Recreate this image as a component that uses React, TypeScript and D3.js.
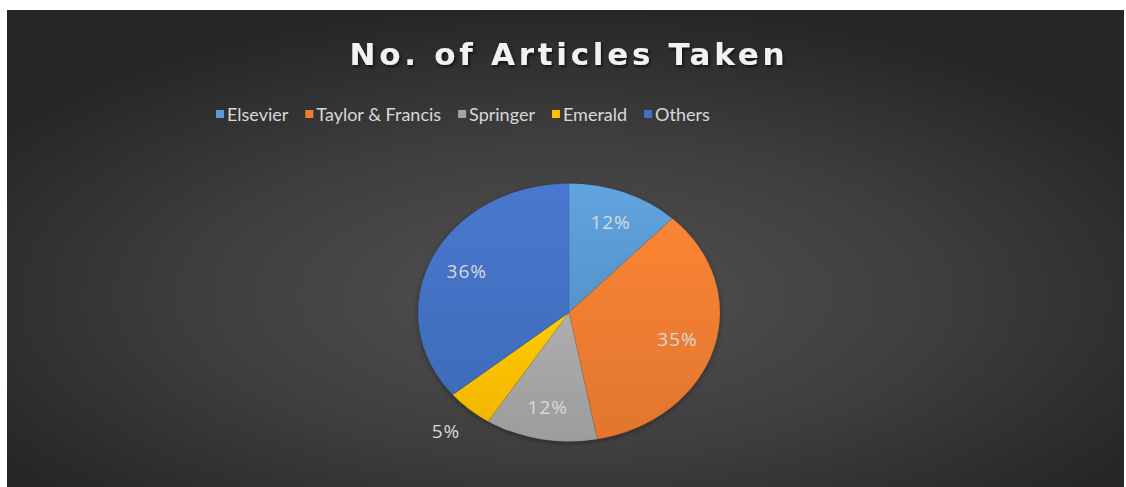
import React, { useEffect, useRef } from "react";
import * as d3 from "d3";

const categories = ["Elsevier", "Taylor & Francis", "Springer", "Emerald", "Others"];
const values = [12, 35, 12, 5, 36];
const colors = ["#5B9BD5", "#ED7D31", "#A5A5A5", "#FFC000", "#4472C4"];
const titleText = "No. of Articles Taken";

export default function App() {
  const ref = useRef<SVGSVGElement>(null);
  useEffect(() => {
    const svg = d3.select(ref.current);
    svg.selectAll("*").remove();
    const W = 1126, H = 487;
    const defs = svg.append("defs");
    const bg = defs.append("radialGradient").attr("id", "bg").attr("cx", "0.5").attr("cy", "0.6").attr("r", "0.6");
    bg.append("stop").attr("offset", "0").attr("stop-color", "#525252");
    bg.append("stop").attr("offset", "0.55").attr("stop-color", "#3e3e3e");
    bg.append("stop").attr("offset", "1").attr("stop-color", "#272727");
    const sh = defs.append("filter").attr("id", "sh").attr("x", "-10%").attr("y", "-30%").attr("width", "120%").attr("height", "160%");
    sh.append("feDropShadow").attr("dx", 1.5).attr("dy", 2).attr("stdDeviation", 1.5).attr("flood-color", "#000").attr("flood-opacity", 0.6);
    const psh = defs.append("filter").attr("id", "psh").attr("x", "-20%").attr("y", "-20%").attr("width", "140%").attr("height", "140%");
    psh.append("feDropShadow").attr("dx", 0).attr("dy", 2).attr("stdDeviation", 3).attr("flood-color", "#000").attr("flood-opacity", 0.35);
    colors.forEach((c, i) => {
      const g = defs.append("linearGradient").attr("id", "sg" + i).attr("x1", 0).attr("y1", 0).attr("x2", 0).attr("y2", 1);
      g.append("stop").attr("offset", 0).attr("stop-color", d3.color(c)!.brighter(0.15).formatHex());
      g.append("stop").attr("offset", 1).attr("stop-color", d3.color(c)!.darker(0.15).formatHex());
    });

    svg.append("rect").attr("x", 0).attr("y", 0).attr("width", W).attr("height", H).attr("fill", "#fff");
    svg.append("rect").attr("x", 7).attr("y", 10).attr("width", 1117).attr("height", 477).attr("fill", "url(#bg)");

    svg.append("text").attr("x", 567).attr("y", 65).attr("text-anchor", "middle")
      .attr("font-family", "'DejaVu Sans', sans-serif").attr("font-weight", 700).attr("font-size", 31)
      .attr("fill", "#f2f2f2").attr("filter", "url(#sh)")
      .attr("textLength", 435).attr("lengthAdjust", "spacing")
      .text(titleText);

    // legend
    const lg = svg.append("g");
    let x = 216;
    categories.forEach((c, i) => {
      lg.append("rect").attr("x", x).attr("y", 110).attr("width", 8).attr("height", 8).attr("fill", colors[i]);
      const t = lg.append("text").attr("x", x + 11).attr("y", 121)
        .attr("font-family", "Lato, sans-serif").attr("font-size", 18).attr("fill", "#d9d9d9").text(c);
      const w = (t.node() as SVGTextElement).getComputedTextLength();
      x += 11 + w + 17;
    });

    const cx = 569, cy = 312.5, rx = 151, ry = 129;
    const pie = d3.pie<number>().sort(null).value(d => d);
    const arcs = pie(values);
    const arc = d3.arc<d3.PieArcDatum<number>>().innerRadius(0).outerRadius(rx);
    const pg = svg.append("g").attr("transform", `translate(${cx},${cy}) scale(1,${ry / rx})`).attr("filter", "url(#psh)");
    pg.selectAll("path").data(arcs).enter().append("path")
      .attr("d", d => arc(d)!)
      .attr("fill", (d, i) => `url(#sg${i})`)
      .attr("stroke", "rgba(0,0,0,0.15)").attr("stroke-width", 0.6);

    const totalV = d3.sum(values);
    arcs.forEach((d, i) => {
      const a = (d.startAngle + d.endAngle) / 2;
      const outside = d.value / totalV < 0.08;
      const r = outside ? 186 : 113;
      const lx = cx + Math.sin(a) * r;
      const ly = cy - Math.cos(a) * r * (ry / rx);
      svg.append("text").attr("x", lx).attr("y", ly).attr("text-anchor", "middle").attr("dy", "0.35em")
        .attr("font-family", "'Open Sans', sans-serif").attr("font-size", 19).attr("fill", "#d9d9d9")
        .attr("letter-spacing", 1)
        .text(Math.round((d.value / totalV) * 100) + "%");
    });
  }, []);
  return <svg ref={ref} width={1126} height={487} style={{ position: "absolute", left: 0, top: 0 }} />;
}
